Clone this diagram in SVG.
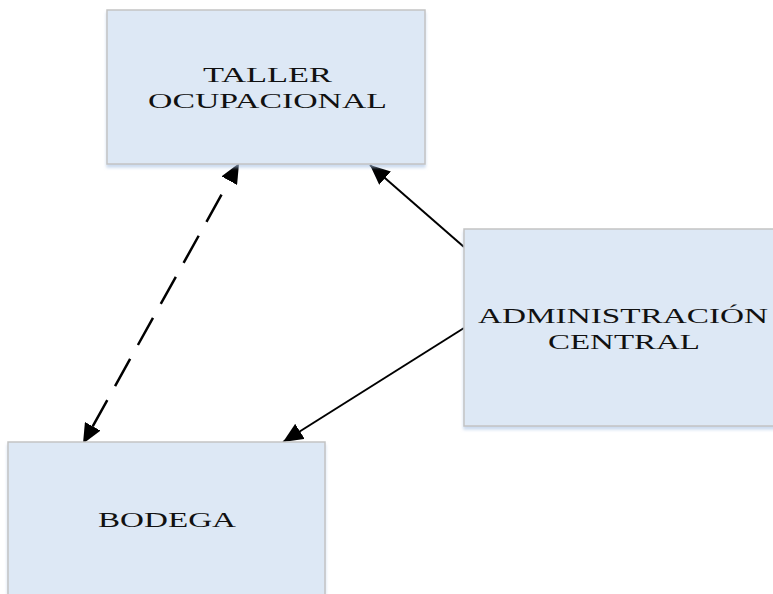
<svg xmlns="http://www.w3.org/2000/svg" width="773" height="594" viewBox="0 0 773 594">
<style>
.box{fill:#dde8f5;stroke:#c3c3c3;stroke-width:1.5;filter:url(#sh)}
.lbl{font-family:"Liberation Serif","Times New Roman",serif;font-size:22px;fill:#111}
.ln{fill:none;stroke:#000;stroke-width:2}
.dash{fill:none;stroke:#000;stroke-width:2.5;stroke-dasharray:31 16;stroke-dashoffset:31}
</style>
<defs>
<filter id="sh" x="-5%" y="-5%" width="110%" height="115%">
<feDropShadow dx="0" dy="3" stdDeviation="1.5" flood-color="#a9c3e3" flood-opacity="0.6"/>
</filter>
<marker id="ah" markerUnits="userSpaceOnUse" markerWidth="20" markerHeight="18" viewBox="0 0 18 16" refX="18" refY="8" orient="auto">
<path d="M0,0 L18,8 L0,16 z" fill="#000"/>
</marker>
<marker id="ahb" markerUnits="userSpaceOnUse" markerWidth="20" markerHeight="18" viewBox="0 0 18 16" refX="0" refY="8" orient="auto-start-reverse">
<path d="M0,0 L18,8 L0,16 z" fill="#000"/>
</marker>
</defs>
<rect width="773" height="594" fill="#fff"/>
<g id="connectors">
<path class="ln" d="M464,247 L370,165" marker-end="url(#ah)"/>
<path class="ln" d="M464,328 L283,442" marker-end="url(#ah)"/>
<path class="dash" d="M229.3,180.7 L92.7,426.3" marker-start="url(#ahb)" marker-end="url(#ahb)"/>
</g>
<g id="taller">
<rect class="box" x="107" y="10" width="318" height="154"/>
<text class="lbl" x="203" y="82" textLength="129" lengthAdjust="spacingAndGlyphs">TALLER</text>
<text class="lbl" x="148" y="108" textLength="239" lengthAdjust="spacingAndGlyphs">OCUPACIONAL</text>
</g>
<g id="administracion">
<rect class="box" x="464" y="229" width="320" height="197"/>
<text class="lbl" x="478" y="323" textLength="290" lengthAdjust="spacingAndGlyphs">ADMINISTRACIÓN</text>
<text class="lbl" x="548" y="349" textLength="152" lengthAdjust="spacingAndGlyphs">CENTRAL</text>
</g>
<g id="bodega">
<rect class="box" x="8" y="442" width="317" height="160"/>
<text class="lbl" x="98" y="527" textLength="138" lengthAdjust="spacingAndGlyphs">BODEGA</text>
</g>
</svg>
